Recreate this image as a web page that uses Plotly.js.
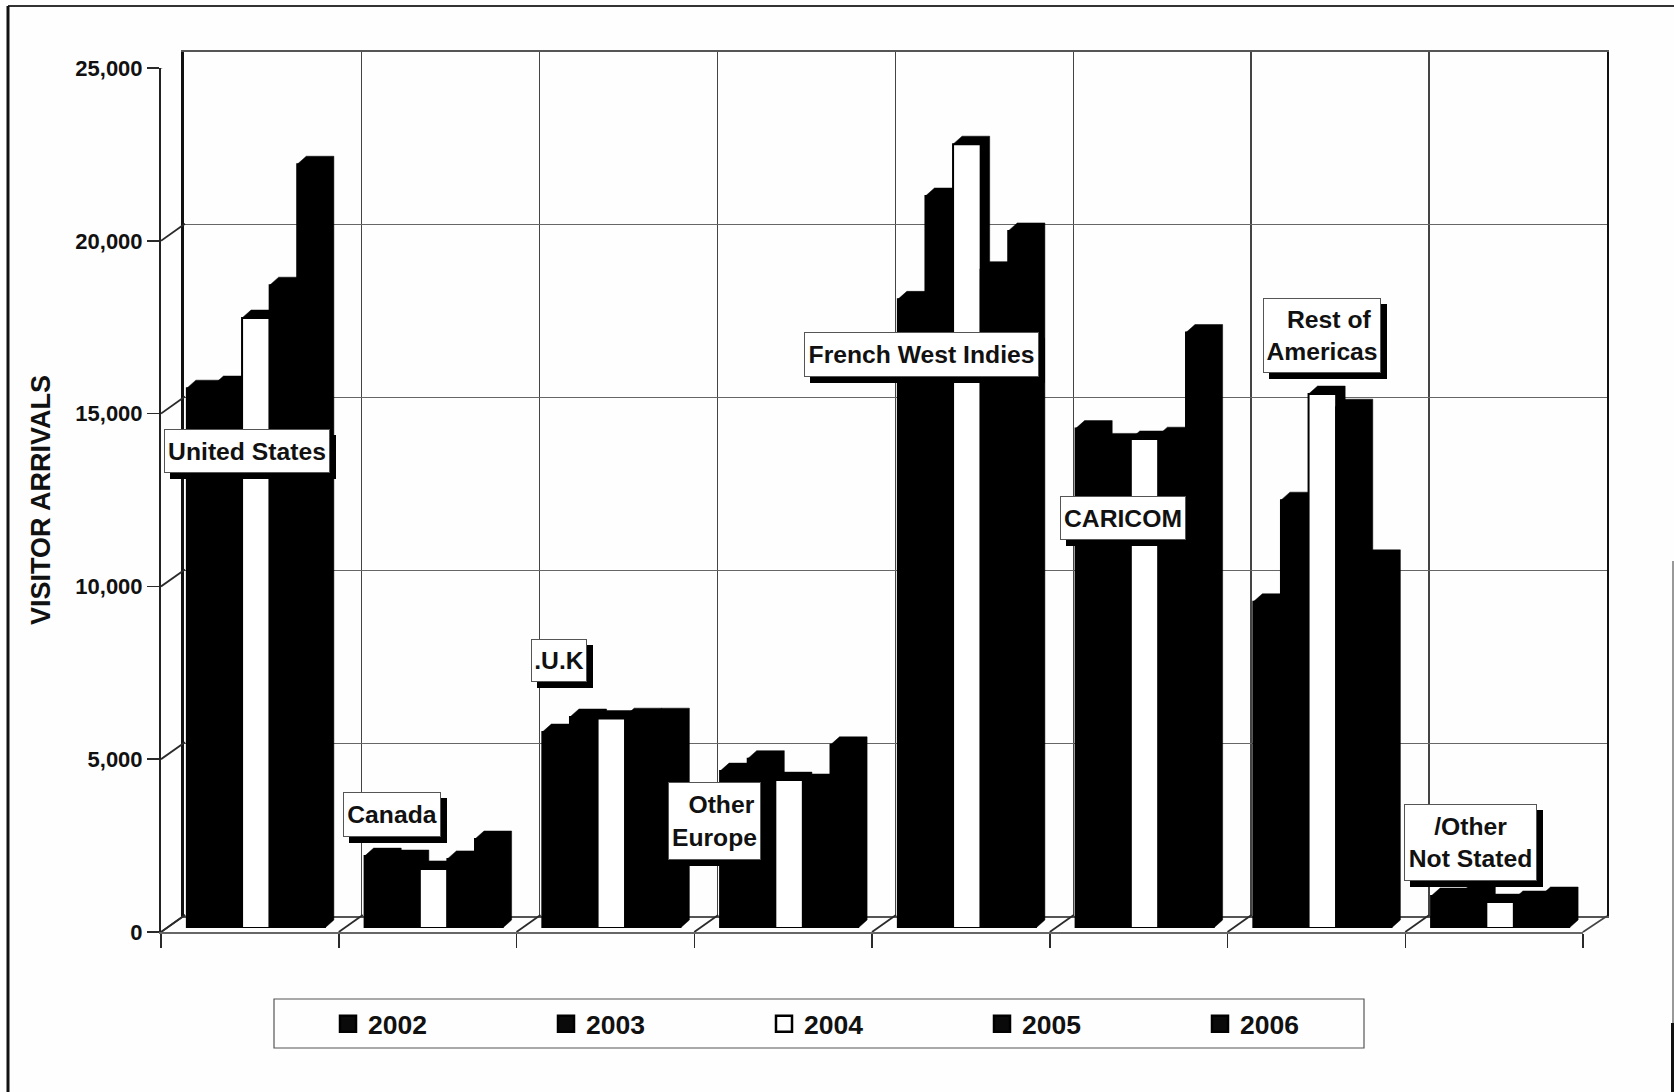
<!DOCTYPE html>
<html>
<head>
<meta charset="utf-8">
<script src="https://cdn.plot.ly/plotly-3.0.1.min.js"></script>
<style>html,body{margin:0;padding:0;background:#fefefe}</style>
</head>
<body>
<div id="chart" style="width:1674px;height:1092px"></div>
<script>
const categories = ['United States','Canada','.U.K','Other Europe','French West Indies','CARICOM','Rest of Americas','/Other Not Stated'];
const v2002 = [15620,2080,5670,4540,18190,14450,9440,925];
const v2003 = [15740,2025,6105,4900,21180,14080,12380,955];
const v2004 = [17650,1710,6060,4280,22680,14150,15450,750];
const v2005 = [18600,2000,6130,4225,19050,14260,15070,840];
const v2006 = [22100,2575,6130,5300,20170,17230,10710,955];
const seriesNames = ['2002','2003','2004','2005','2006'];
const seriesValues = [v2002,v2003,v2004,v2005,v2006];
const seriesFills = ['#000000','#000000','#ffffff','#000000','#000000'];
const yTicks = [0,5000,10000,15000,20000,25000];
const xTicks = [0,1,2,3,4,5,6,7,8];

const W = 1674, H = 1092;
const px = (a,b)=>[a/W,b/W];
const py = (bottom,top)=>[(H-bottom)/H,(H-top)/H];
const FONT = '"Liberation Sans", Arial, sans-serif';
const INK = '#2a2a2a';

// axes geometry
const catPx = 177.75, valPx = 864/25000;
const groupFrac = 138/177.75, barW = groupFrac/5;
const wallDx = 24/catPx, wallDy = 17/valPx;
const depthDx = 9/catPx, depthDy = 8/valPx;

const traces = [];

// back wall (carries the gridlines)
traces.push({type:'scatter',mode:'none',x:[0,8],y:[0,25000],xaxis:'x',yaxis:'y',showlegend:false,hoverinfo:'skip'});

// connectors between the front axes and the back wall
yTicks.forEach(t=>{
  traces.push({type:'scatter',mode:'lines',x:[0,wallDx],y:[t,t+wallDy],xaxis:'x2',yaxis:'y2',cliponaxis:false,
    line:{color:INK,width:1.8},showlegend:false,hoverinfo:'skip'});
});
xTicks.forEach(t=>{
  traces.push({type:'scatter',mode:'lines',x:[t,t+wallDx],y:[0,wallDy],xaxis:'x2',yaxis:'y2',cliponaxis:false,
    line:{color:INK,width:1.8},showlegend:false,hoverinfo:'skip'});
});

// side and top faces of the columns
seriesValues.forEach((vals,s)=>{
  const x=[],y=[];
  vals.forEach((v,i)=>{
    const xl=i+0.5-groupFrac/2+s*barW, xr=xl+barW;
    x.push(xl,xl,xl+depthDx,xr+depthDx,xr+depthDx,xr,xl,null);
    y.push(0,v,v+depthDy,v+depthDy,depthDy,0,0,null);
  });
  traces.push({type:'scatter',mode:'lines',x,y,xaxis:'x3',yaxis:'y3',fill:'toself',fillcolor:'#000',
    line:{color:'#000',width:0.5},showlegend:false,hoverinfo:'skip',cliponaxis:false});
});

// column front faces
seriesValues.forEach((vals,s)=>{
  traces.push({type:'bar',name:seriesNames[s],x:vals.map((_,i)=>i+0.5),y:vals,xaxis:'x4',yaxis:'y4',
    marker:{color:seriesFills[s],line:{color:'#000',width:2}},cliponaxis:false,showlegend:false});
});

// legend keys (the legend's bar key has a fixed small size, so the entries use square markers)
seriesNames.forEach((n,s)=>{
  traces.push({type:'scatter',mode:'markers',name:n,x:[null],y:[null],xaxis:'x4',yaxis:'y4',
    marker:{symbol:'square',size:16,color:seriesFills[s]==='#ffffff'?'#ffffff':'#0a0a0a',line:{color:'#000',width:2.5}},hoverinfo:'skip'});
});

const hidden = (o)=>Object.assign({visible:false,fixedrange:true},o);
const layout = {
  width:W,height:H,margin:{l:0,r:0,t:0,b:0},
  paper_bgcolor:'#fefefe',plot_bgcolor:'rgba(0,0,0,0)',
  font:{family:FONT,color:'#111'},
  barmode:'group',bargap:1-groupFrac,bargroupgap:0,
  showlegend:true,
  legend:{orientation:'h',x:328/W,xanchor:'left',y:(H-1024)/H,yanchor:'middle',
    bgcolor:'rgba(0,0,0,0)',borderwidth:0,entrywidth:173,entrywidthmode:'pixels',itemclick:false,itemdoubleclick:false,
    font:{family:FONT,size:26.5,weight:700,color:'#111'}},
  xaxis:{domain:px(183.5,1607),range:[0,8],tick0:0,dtick:1,showgrid:true,gridcolor:'#444',gridwidth:1.3,
    showticklabels:false,ticks:'',zeroline:false,showline:true,linecolor:'#555',linewidth:1.6,mirror:true,anchor:'y'},
  yaxis:{domain:py(916,52),range:[0,25000],tick0:0,dtick:5000,showgrid:true,gridcolor:'#666',gridwidth:1.2,
    showticklabels:false,ticks:'',zeroline:false,showline:true,linecolor:'#111',linewidth:2.4,mirror:true,anchor:'x'},
  xaxis2:{domain:px(161,1583),range:[0,8],tickvals:xTicks,ticktext:xTicks.map(()=>''),ticks:'outside',ticklen:14,tickwidth:1.5,
    tickcolor:INK,showgrid:false,zeroline:false,showline:true,linecolor:'#666',linewidth:2,anchor:'y2'},
  yaxis2:{domain:py(932,68),range:[0,25000],tickvals:yTicks,tickformat:',d',ticks:'outside',ticklen:12,tickwidth:1.5,tickcolor:INK,
    tickfont:{family:FONT,size:22,weight:700,color:'#111'},showgrid:false,zeroline:false,showline:true,linecolor:'#222',linewidth:2,anchor:'x2',
    title:{text:'VISITOR ARRIVALS',standoff:17,font:{family:FONT,size:27,weight:700,color:'#111'}}},
  xaxis3:hidden({domain:px(167,1589),range:[0,8],anchor:'y3'}),
  yaxis3:hidden({domain:py(928,64),range:[0,25000],anchor:'x3'}),
  xaxis4:hidden({domain:px(167,1589),range:[0,8],anchor:'y4'}),
  yaxis4:hidden({domain:py(928,64),range:[0,25000],anchor:'x4'}),
  shapes:[],annotations:[]
};

const paperRect=(x0,y0,x1,y1,extra)=>Object.assign({type:'rect',xref:'paper',yref:'paper',x0:x0/W,x1:x1/W,y0:(H-y0)/H,y1:(H-y1)/H},extra);
const paperLine=(x0,y0,x1,y1,w,c)=>({type:'line',xref:'paper',yref:'paper',x0:x0/W,x1:x1/W,y0:(H-y0)/H,y1:(H-y1)/H,line:{color:c||'#222',width:w}});

// page frame, legend box and the floor's right edge
layout.shapes.push(paperLine(8,6,1674,6,2,'#333'),paperLine(8,6,8,1092,3,'#111'),
  paperLine(1672.5,1023,1672.5,1092,3,'#111'),paperLine(1673,561,1673,1023,1.2,'#555'),
  paperLine(1583,932,1607,916,1.6,'#444'));
layout.shapes.push(paperRect(274,999,1364,1048,{line:{color:'#555',width:1.2},fillcolor:'rgba(0,0,0,0)',layer:'below'}));

// callout labels: [text, left, top, right, bottom]
const labelBoxes = [
  ['United States',164,429,330,473],
  ['Canada',343,792,441,837],
  ['.U.K',531,639,587,682],
  ['\u00a0\u00a0Other<br>Europe',668,782,761,860],
  ['French West Indies',804,332,1039,377],
  ['CARICOM',1060,496,1186,540],
  ['\u00a0\u00a0Rest of<br>Americas',1263,298,1381,373],
  ['/Other<br>Not Stated',1404,804,1537,881]
];
labelBoxes.forEach(b=>{
  const [t,l,tp,r,bt]=b;
  layout.shapes.push(paperRect(l+6,tp+6,r+6,bt+6,{fillcolor:'#000',line:{width:0},layer:'above'}));
  layout.annotations.push({text:t,xref:'paper',yref:'paper',x:l/W,y:(H-tp)/H,xanchor:'left',yanchor:'top',
    width:r-l-2,height:bt-tp-2,align:'center',valign:'middle',showarrow:false,bgcolor:'#fff',bordercolor:'#555',borderwidth:1,borderpad:0,
    font:{family:FONT,size:24.7,weight:700,color:'#111'}});
});

Plotly.newPlot('chart',traces,layout,{staticPlot:true,displayModeBar:false});
</script>
</body>
</html>
